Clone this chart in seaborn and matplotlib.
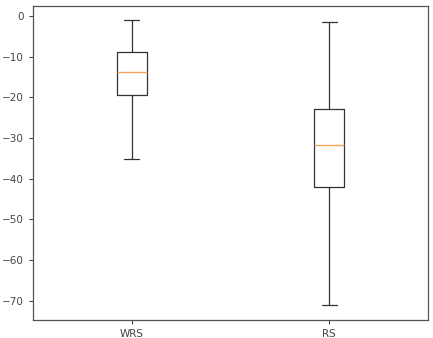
import matplotlib.pyplot as plt
import numpy as np
import seaborn as sns
import pandas as pd

# valeurs : min, Q1, médiane, Q3, max
groupes = ['WRS', 'RS']
wrs = [-35.1, -19.4, -13.7, -8.9, -1.0]
rs = [-71.0, -42.0, -31.8, -22.8, -1.5]

df = pd.DataFrame({
    'groupe': ['WRS'] * len(wrs) + ['RS'] * len(rs),
    'valeur': wrs + rs,
})

sns.set_style('ticks')
plt.rcParams['font.family'] = ['DejaVu Sans']

fig = plt.figure(figsize=(4.33, 3.38), dpi=100)
ax = fig.add_axes([33 / 433, 1 - 320 / 338, 395 / 433, 314 / 338])

sns.boxplot(data=df, x='groupe', y='valeur', order=groupes, ax=ax,
            width=0.15, fill=False, whis=(0, 100), showfliers=False,
            color='#333333', linewidth=0.9,
            medianprops={'color': '#f5a55a', 'linewidth': 1.0})

ax.set_xlim(-0.5, 1.5)
ax.set_ylim(-74.7, 2.45)
ax.set_yticks([0, -10, -20, -30, -40, -50, -60, -70])
ax.set_xlabel('')
ax.set_ylabel('')
for s in ax.spines.values():
    s.set_visible(True)
    s.set_color('#555555')
    s.set_linewidth(0.9)
ax.tick_params(labelsize=7.5, colors='#444444', length=3, width=0.8)

plt.savefig('out.png', dpi=100)
